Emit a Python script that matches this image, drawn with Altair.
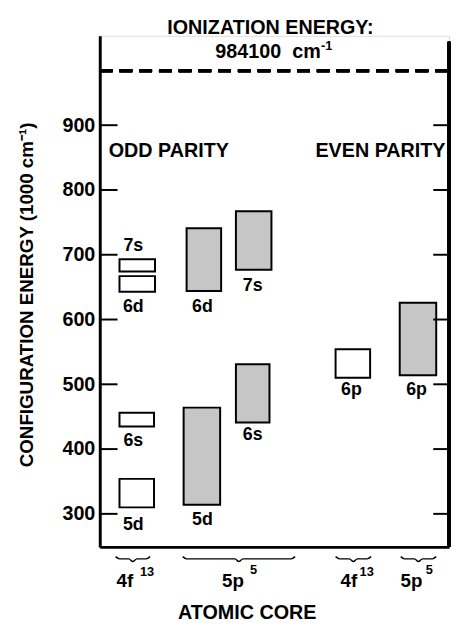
import altair as alt
import pandas as pd

FONT = "Liberation Sans"

# ---- data -------------------------------------------------------------
box_config = ["5d", "6s", "6d", "7s", "5d", "6d", "6s", "7s", "6p", "6p"]
box_core = ["4f13", "4f13", "4f13", "4f13", "5p5", "5p5", "5p5", "5p5", "4f13", "5p5"]
box_parity = ["odd"] * 8 + ["even"] * 2
box_style = ["open"] * 4 + ["stippled"] * 4 + ["open", "stippled"]
box_low = [310, 435, 643, 674, 314, 644, 441, 677, 510, 514]     # 1000 cm-1
box_high = [354, 456, 667, 693, 464, 741, 531, 767, 554, 626]    # 1000 cm-1
box_x0 = [20, 20, 20, 20, 85, 88, 138, 138, 239, 304]            # column position
box_x1 = [55, 55, 56, 56, 122, 123, 172, 174, 274, 341]

label_text = ["7s", "6d", "6d", "7s", "6s", "6s", "5d", "5d", "6p", "6p"]
label_x = [34, 34, 104, 155, 34, 155, 34, 104, 255, 321]
label_y = [713, 620, 620, 652, 412, 421, 283, 290, 491, 491]

y_ticks = [300, 400, 500, 600, 700, 800, 900]
ionization_energy = 984.1

core_text = ["4f", "5p", "4f", "5p"]
core_sup = ["13", "5", "13", "5"]
core_x = [25.5, 135, 252.5, 316]
core_sup_x = [48, 156, 270.5, 334]
brace_x0 = [16, 84, 239, 305]
brace_x1 = [51, 198, 275, 341]

# ---- tables -----------------------------------------------------------
boxes = pd.DataFrame({
    "config": box_config, "core": box_core, "parity": box_parity,
    "style": box_style, "low": box_low, "high": box_high,
    "x0": box_x0, "x1": box_x1,
})
labels = pd.DataFrame({"text": label_text, "x": label_x, "y": label_y})
ticks = pd.DataFrame({"v": y_ticks})

big_text = pd.DataFrame({
    "text": ["ODD PARITY", "EVEN PARITY", "IONIZATION ENERGY:", "984100", "cm",
             "ATOMIC CORE"] + core_text,
    "x": [70, 284.5, 173, 150.5, 209.5, 149.5] + core_x,
    "y": [860.5, 860.5, 1050.6, 1012.6, 1012.6, 147] + [196] * 4,
    "size": [20, 20, 20, 20, 20, 20] + [19] * 4,
})
sup_text = pd.DataFrame({
    "text": ["-1"] + core_sup,
    "x": [230] + core_sup_x,
    "y": [1022] + [210, 214, 210, 214],
})

brace_rows = []
for i, (a, b) in enumerate(zip(brace_x0, brace_x1)):
    m = (a + b) / 2
    for px, py in [(a, 234), (a + 4, 230.5), (m - 4, 230.5), (m, 226.5),
                   (m + 4, 230.5), (b - 4, 230.5), (b, 234)]:
        brace_rows.append({"g": i, "x": px, "y": py, "o": len(brace_rows)})
braces = pd.DataFrame(brace_rows)

# ---- scales and shared axes --------------------------------------------
xs = alt.Scale(domain=[0, 354], nice=False, zero=False)
ys = alt.Scale(domain=[249, 1038], nice=False, zero=False)
xax = alt.Axis(labels=False, ticks=False, title=None, grid=False, domainWidth=3,
               domainColor="black")
yax = alt.Axis(values=y_ticks, title=None, grid=False, tickSize=0, labelPadding=5,
               labelFont=FONT, labelFontSize=20, labelFontWeight="bold",
               labelColor="black", domainWidth=3, domainColor="black")

box_layer = alt.Chart(boxes).mark_rect(stroke="black", strokeWidth=2).encode(
    x=alt.X("x0:Q", scale=xs, axis=xax),
    x2="x1:Q",
    y=alt.Y("low:Q", scale=ys, axis=yax),
    y2="high:Q",
    fill=alt.Fill("style:N", scale=alt.Scale(domain=["open", "stippled"],
                                             range=["white", "#c6c6c6"]),
                  legend=None),
)

left_ticks = alt.Chart(ticks).mark_rule(color="black", strokeWidth=2).encode(
    y=alt.Y("v:Q", scale=ys, axis=yax), x=alt.value(0), x2=alt.value(18))
right_ticks = alt.Chart(ticks).mark_rule(color="black", strokeWidth=2).encode(
    y=alt.Y("v:Q", scale=ys, axis=yax), x=alt.value(338), x2=alt.value(354))

right_axis = alt.Chart(ticks).mark_rule(color="black", strokeWidth=3).encode(
    x=alt.X(datum=354, scale=xs, axis=xax), y=alt.value(6), y2=alt.value(518))

dash = alt.Chart(ticks).mark_rule(color="black", strokeWidth=3,
                                  strokeDash=[13, 7]).encode(
    y=alt.Y(datum=ionization_energy, scale=ys, axis=yax),
    x=alt.value(0), x2=alt.value(354))

box_labels = alt.Chart(labels).mark_text(font=FONT, fontSize=18, fontWeight="bold",
                                         baseline="middle", color="black").encode(
    x=alt.X("x:Q", scale=xs, axis=xax), y=alt.Y("y:Q", scale=ys, axis=yax),
    text="text:N")

texts = alt.Chart(big_text).mark_text(font=FONT, fontWeight="bold",
                                      baseline="middle", color="black").encode(
    x=alt.X("x:Q", scale=xs, axis=xax), y=alt.Y("y:Q", scale=ys, axis=yax),
    text="text:N", size=alt.Size("size:Q", scale=None))

sups = alt.Chart(sup_text).mark_text(font=FONT, fontSize=13, fontWeight="bold",
                                     baseline="middle", color="black").encode(
    x=alt.X("x:Q", scale=xs, axis=xax), y=alt.Y("y:Q", scale=ys, axis=yax),
    text="text:N")

ytitle = alt.Chart(pd.DataFrame({"t": ["CONFIGURATION ENERGY (1000 cm\u207b\u00b9)"],
                                 "x": [-74], "y": [638]})).mark_text(
    font=FONT, fontSize=19, fontWeight="bold", angle=270, baseline="middle",
    color="black").encode(
    x=alt.X("x:Q", scale=xs, axis=xax), y=alt.Y("y:Q", scale=ys, axis=yax),
    text="t:N")

brace_layer = alt.Chart(braces).mark_line(color="black", strokeWidth=1.5,
                                          interpolate="monotone").encode(
    x=alt.X("x:Q", scale=xs, axis=xax), y=alt.Y("y:Q", scale=ys, axis=yax),
    detail="g:N", order="o:Q")

chart = alt.layer(
    box_layer, left_ticks, right_ticks, right_axis, dash, box_labels, texts, sups,
    ytitle, brace_layer
).properties(
    width=354, height=518,
    autosize=alt.AutoSizeParams(type="none"),
    padding={"left": 93, "top": 24, "right": 4, "bottom": 76},
).configure_view(stroke=None).configure(background="white")

chart.save("out.html", embed_options={"renderer": "svg", "actions": False})
